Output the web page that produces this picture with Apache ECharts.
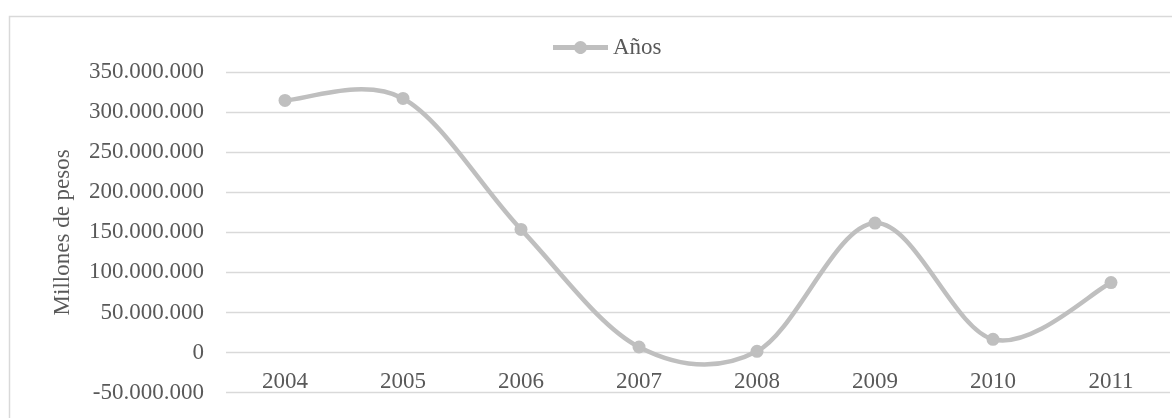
<!DOCTYPE html>
<html>
<head>
<meta charset="utf-8">
<script src="https://cdn.jsdelivr.net/npm/echarts@6/dist/echarts.min.js"></script>
<style>html,body{margin:0;padding:0;background:#fff}#c{width:1172px;height:418px}</style>
</head>
<body>
<div id="c"></div>
<script>
const categories = ['2004','2005','2006','2007','2008','2009','2010','2011'];
const values = [314600000, 317000000, 153700000, 7000000, 1600000, 161600000, 16600000, 87300000];
const seriesName = 'Años';
const yAxisTitle = 'Millones de pesos';
const yMin = -50000000, yMax = 350000000, yStep = 50000000;

function fmt(v){
  const neg = v < 0;
  const s = Math.abs(Math.round(v)).toString().replace(/\B(?=(\d{3})+(?!\d))/g, '.');
  return (neg ? '-' : '') + s;
}
const font = 'Liberation Serif';
const txt = '#595959';
const lineColor = '#bfbfbf';

// Catmull-Rom style smoothed path through the data points (coordinates from the axes)
function renderCurve(params, api){
  if (params.dataIndex !== 0) return null;
  const pts = values.map((v, i) => api.coord([i, v]));
  let d = 'M' + pts[0][0] + ' ' + pts[0][1];
  for (let i = 0; i < pts.length - 1; i++){
    const p0 = pts[Math.max(i - 1, 0)], p1 = pts[i], p2 = pts[i + 1], p3 = pts[Math.min(i + 2, pts.length - 1)];
    const c1 = [p1[0] + (p2[0] - p0[0]) / 6, p1[1] + (p2[1] - p0[1]) / 6];
    const c2 = [p2[0] - (p3[0] - p1[0]) / 6, p2[1] - (p3[1] - p1[1]) / 6];
    d += ' C' + c1[0] + ' ' + c1[1] + ' ' + c2[0] + ' ' + c2[1] + ' ' + p2[0] + ' ' + p2[1];
  }
  return {
    type: 'path',
    shape: {pathData: d},
    style: {fill: 'none', stroke: lineColor, lineWidth: 4.5, lineJoin: 'round', lineCap: 'round'}
  };
}

const chart = echarts.init(document.getElementById('c'));
chart.setOption({
  animation: false,
  backgroundColor: '#fff',
  graphic: [{type:'rect', left:7, top:14, shape:{width:1200, height:440}, style:{fill:'none', stroke:'#d9d9d9', lineWidth:1.5}, silent:true}],
  legend: {
    data: [{name: seriesName, icon: 'path://M0,4 L21.5,4 A6.5,6.5 0 0,1 33.5,4 L55,4 L55,9 L33.5,9 A6.5,6.5 0 0,1 21.5,9 L0,9 Z'}],
    left: 553, top: 36, padding: 0, itemWidth: 55, itemHeight: 13,
    itemStyle: {color: lineColor, borderWidth: 0},
    textStyle: {fontFamily: font, fontSize: 23, color: txt}
  },
  grid: {left: 226, right: 2, top: 72, bottom: 25.3},
  xAxis: {
    type: 'category', data: categories, boundaryGap: true,
    axisLine: {show: false, onZero: false}, axisTick: {show: false},
    axisLabel: {fontFamily: font, fontSize: 23, color: txt, margin: -22}
  },
  yAxis: {
    type: 'value', min: yMin, max: yMax, interval: yStep,
    name: yAxisTitle, nameLocation: 'middle', nameGap: 152, nameRotate: 90,
    nameTextStyle: {fontFamily: font, fontSize: 23, color: txt},
    axisLine: {show: false}, axisTick: {show: false},
    splitLine: {lineStyle: {color: '#d9d9d9', width: 1.3}},
    axisLabel: {fontFamily: font, fontSize: 23, color: txt, margin: 22, formatter: fmt}
  },
  series: [{
    type: 'custom', name: 'curve', renderItem: renderCurve,
    data: values.map((v, i) => [i, v]), encode: {x: 0, y: 1}, z: 2, silent: true, clip: false
  }, {
    name: seriesName, type: 'line', data: values,
    symbol: 'circle', symbolSize: 13, z: 3,
    lineStyle: {opacity: 0, width: 0},
    itemStyle: {color: lineColor}
  }]
});
</script>
</body>
</html>
